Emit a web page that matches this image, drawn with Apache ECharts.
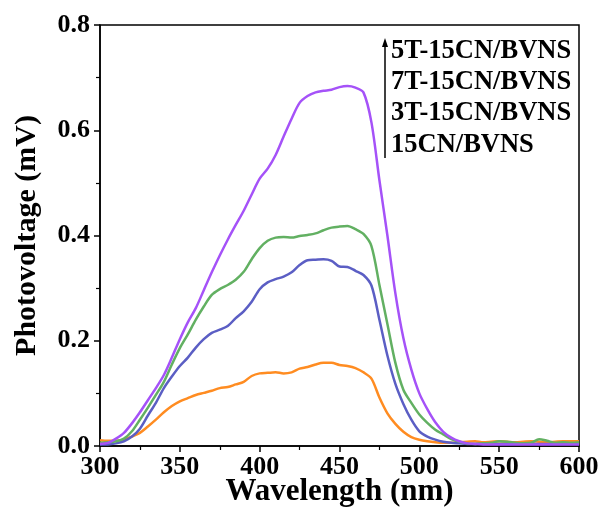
<!DOCTYPE html>
<html>
<head>
<meta charset="utf-8">
<script src="https://cdn.jsdelivr.net/npm/echarts@6/dist/echarts.min.js"></script>
<style>html,body{margin:0;padding:0;background:#fff}#c{width:603px;height:511px}</style>
</head>
<body>
<div id="c"></div>
<script>
var wavelengths = [];
for (var w = 300; w <= 600; w += 5) wavelengths.push(w);

var seriesNames = ['5T-15CN/BVNS', '7T-15CN/BVNS', '3T-15CN/BVNS', '15CN/BVNS'];

var v5T = [0.004,0.006,0.014,0.025,0.043,0.064,0.087,0.11,0.135,0.168,0.203,0.235,0.262,0.296,0.33,0.362,0.392,0.42,0.447,0.478,0.508,0.527,0.553,0.588,0.622,0.652,0.665,0.672,0.675,0.677,0.682,0.684,0.681,0.672,0.615,0.505,0.4,0.29,0.205,0.145,0.1,0.07,0.045,0.027,0.016,0.009,0.005,0.004,0.003,0.003,0.003,0.003,0.003,0.003,0.003,0.003,0.003,0.003,0.003,0.003,0.003];
var v7T = [0.006,0.007,0.009,0.014,0.028,0.05,0.073,0.097,0.122,0.155,0.186,0.212,0.24,0.265,0.287,0.298,0.306,0.316,0.331,0.355,0.376,0.39,0.396,0.397,0.396,0.399,0.401,0.404,0.41,0.415,0.417,0.418,0.412,0.403,0.38,0.306,0.232,0.158,0.107,0.082,0.06,0.044,0.031,0.022,0.013,0.008,0.005,0.004,0.005,0.006,0.009,0.008,0.006,0.005,0.006,0.013,0.01,0.006,0.007,0.006,0.007];
var v3T = [0.003,0.003,0.005,0.009,0.018,0.033,0.058,0.082,0.11,0.132,0.152,0.168,0.187,0.203,0.215,0.221,0.228,0.243,0.256,0.274,0.298,0.311,0.317,0.322,0.33,0.344,0.353,0.354,0.355,0.352,0.341,0.34,0.333,0.325,0.305,0.24,0.172,0.118,0.08,0.05,0.028,0.018,0.012,0.008,0.006,0.005,0.004,0.004,0.004,0.004,0.004,0.004,0.004,0.004,0.004,0.004,0.004,0.004,0.004,0.004,0.004];
var v15CN = [0.011,0.01,0.01,0.012,0.018,0.025,0.037,0.05,0.064,0.076,0.085,0.091,0.097,0.101,0.105,0.11,0.112,0.117,0.122,0.133,0.138,0.139,0.14,0.138,0.14,0.147,0.15,0.155,0.158,0.158,0.154,0.152,0.148,0.14,0.128,0.092,0.062,0.042,0.027,0.017,0.012,0.009,0.007,0.006,0.006,0.007,0.008,0.009,0.007,0.008,0.009,0.008,0.007,0.008,0.009,0.008,0.007,0.008,0.009,0.009,0.009];

var xTicks = [300, 350, 400, 450, 500, 550, 600];
var yTicks = [0.0, 0.2, 0.4, 0.6, 0.8];

var colors = ['#A552F8', '#62B062', '#5B5EC4', '#FF8C21'];
var allValues = [v5T, v7T, v3T, v15CN];

function pairs(vals) {
  return wavelengths.map(function (w, i) { return [w, vals[i]]; });
}

var FONT = '"Liberation Serif", "Times New Roman", serif';

var series = seriesNames.map(function (n, i) {
  return {
    name: n, type: 'line', data: pairs(allValues[i]), showSymbol: false, smooth: 0.3,
    lineStyle: { color: colors[i], width: 2.5 }, itemStyle: { color: colors[i] }, z: 10 - i
  };
});
series.reverse();

var chart = echarts.init(document.getElementById('c'), null, { renderer: 'canvas' });
chart.setOption({
  animation: false,
  backgroundColor: '#fff',
  grid: { left: 100, right: 24, top: 25, bottom: 65, outerBoundsMode: 'none', containLabel: false,
    show: true, borderColor: '#000', borderWidth: 1.5, backgroundColor: 'transparent' },
  xAxis: {
    type: 'value', min: 300, max: 600, interval: 50,
    name: 'Wavelength (nm)', nameLocation: 'middle', nameGap: 30, nameMoveOverlap: false,
    nameTextStyle: { fontFamily: FONT, fontWeight: 'bold', fontSize: 31, color: '#000' },
    axisLine: { show: true, onZero: false, lineStyle: { color: '#000', width: 1.5 } },
    axisTick: { show: true, length: 6, lineStyle: { color: '#000', width: 1.5 } },
    minorTick: { show: true, splitNumber: 2, length: 4, lineStyle: { color: '#000', width: 1.2 } },
    splitLine: { show: false },
    axisLabel: { fontFamily: FONT, fontWeight: 'bold', fontSize: 26, color: '#000', margin: 8,
      formatter: function (v) { return xTicks.indexOf(v) >= 0 ? String(v) : ''; } }
  },
  yAxis: {
    type: 'value', min: 0, max: 0.8, interval: 0.2,
    name: 'Photovoltage (mV)', nameLocation: 'middle', nameGap: 58, nameRotate: 90,
    nameTextStyle: { fontFamily: FONT, fontWeight: 'bold', fontSize: 30, color: '#000' },
    axisLine: { show: true, onZero: false, lineStyle: { color: '#000', width: 1.5 } },
    axisTick: { show: true, length: 6, lineStyle: { color: '#000', width: 1.5 } },
    minorTick: { show: true, splitNumber: 2, length: 4, lineStyle: { color: '#000', width: 1.2 } },
    splitLine: { show: false },
    axisLabel: { fontFamily: FONT, fontWeight: 'bold', fontSize: 26, color: '#000', margin: 10,
      formatter: function (v) {
        for (var k = 0; k < yTicks.length; k++) if (Math.abs(yTicks[k] - v) < 1e-9) return yTicks[k].toFixed(1);
        return '';
      } }
  },
  graphic: [
    { type: 'line', shape: { x1: 385, y1: 158, x2: 385, y2: 44 }, style: { stroke: '#000', lineWidth: 1.5 } },
    { type: 'polygon', shape: { points: [[385, 38], [382, 47], [388, 47]] }, style: { fill: '#000' } },
    { type: 'text', left: 391, top: 38, style: { text: seriesNames[0], font: 'bold 26.5px ' + FONT, fill: '#000' } },
    { type: 'text', left: 391, top: 69, style: { text: seriesNames[1], font: 'bold 26.5px ' + FONT, fill: '#000' } },
    { type: 'text', left: 391, top: 100, style: { text: seriesNames[2], font: 'bold 26.5px ' + FONT, fill: '#000' } },
    { type: 'text', left: 391, top: 132, style: { text: seriesNames[3], font: 'bold 26.5px ' + FONT, fill: '#000' } }
  ],
  series: series
});
</script>
</body>
</html>
